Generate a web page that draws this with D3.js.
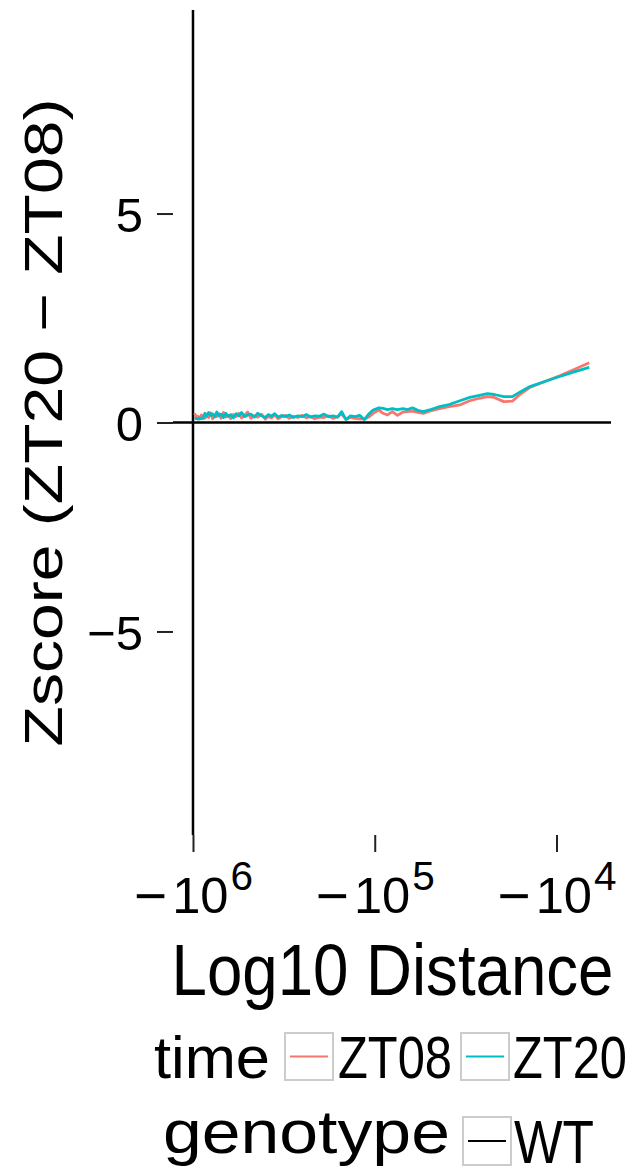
<!DOCTYPE html>
<html>
<head>
<meta charset="utf-8">
<script src="https://cdn.jsdelivr.net/npm/d3@7"></script>
<style>
  html, body { margin: 0; padding: 0; background: #ffffff; }
  svg { display: block; font-family: "Liberation Sans", Arial, Helvetica, sans-serif; }
</style>
</head>
<body>
<svg id="chart" width="634" height="1175"></svg>
<script>
// ---------------- data ----------------
// distance in bp (negative = upstream), shown on a log axis
const distances = [
  -980000, -960000, -940000, -920000, -900000, -880000, -860000, -840000, -820000, -800000,
  -780000, -760000, -740000, -720000, -700000, -680000, -660000, -640000, -620000, -600000,
  -580000, -560000, -540000, -520000, -500000, -480000, -460000, -440000, -420000, -400000,
  -385000, -370000, -355000, -340000, -325000, -310000, -295000, -280000, -265000, -250000,
  -238000, -226000, -214000, -202000, -190000, -180000, -170000, -160000, -152000, -144000,
  -136000, -128000, -121000, -114000, -108000, -102000,
  -95000, -90000, -85000, -80000, -75000, -70000, -66000, -62000, -58000, -54000,
  -50000, -44000, -39000, -34000, -30000, -26500, -24000, -22000, -19500, -17500,
  -16000, -14000, -11600, -9600, -8000, -6600
];
const zt08 = [
  0.22, 0.12, 0.15, 0.08, 0.18, 0.14, 0.10, 0.20, 0.12, 0.23,
  0.09, 0.18, 0.14, 0.21, 0.10, 0.24, 0.13, 0.17, 0.09, 0.19,
  0.14, 0.22, 0.11, 0.17, 0.25, 0.10, 0.16, 0.13, 0.20, 0.08,
  0.15, 0.11, 0.18, 0.09, 0.14, 0.17, 0.10, 0.15, 0.12, 0.17,
  0.11, 0.15, 0.09, 0.13, 0.12, 0.16, 0.10, 0.14, 0.20, 0.08,
  0.12, 0.10, 0.09, 0.08, 0.13, 0.22,
  0.30, 0.22, 0.18, 0.26, 0.17, 0.25, 0.26, 0.27, 0.24, 0.22,
  0.27, 0.33, 0.38, 0.42, 0.52, 0.58, 0.62, 0.60, 0.50, 0.51,
  0.66, 0.84, 0.98, 1.12, 1.27, 1.43
];
const zt20 = [
  0.09, 0.10, 0.08, 0.11, 0.09, 0.10, 0.22, 0.15, 0.24, 0.17,
  0.21, 0.13, 0.25, 0.16, 0.20, 0.12, 0.22, 0.15, 0.19, 0.11,
  0.21, 0.16, 0.24, 0.14, 0.18, 0.20, 0.13, 0.22, 0.16, 0.12,
  0.19, 0.15, 0.21, 0.13, 0.17, 0.14, 0.18, 0.12, 0.16, 0.14,
  0.19, 0.13, 0.16, 0.15, 0.20, 0.14, 0.16, 0.13, 0.26, 0.07,
  0.16, 0.14, 0.17, 0.07, 0.20, 0.30,
  0.35, 0.34, 0.31, 0.33, 0.31, 0.33, 0.31, 0.35, 0.29, 0.26,
  0.30, 0.38, 0.43, 0.52, 0.60, 0.65, 0.69, 0.67, 0.62, 0.62,
  0.72, 0.86, 0.98, 1.10, 1.21, 1.32
];
const timeLevels = ["ZT08", "ZT20"];
const timeColors = ["#F8766D", "#00BFC4"];
const genotypeLevels = ["WT"];
const genotypeColors = ["#000000"];
const xTickValues = [-1e6, -1e5, -1e4];
const xTickExponents = ["6", "5", "4"];
const yTickValues = [-5, 0, 5];
const yTitle = "Zscore (ZT20 \u2212 ZT08)";
const xTitle = "Log10 Distance";

// ---------------- helpers ----------------
// squeeze/stretch a text horizontally (in its own frame) to a target advance width
function fitWidth(textSel, target, pre) {
  const w = textSel.node().getComputedTextLength();
  const s = target / w;
  textSel.attr("transform", (pre || "") + ` scale(${s},1)`);
}

// ---------------- layout ----------------
const panel = { left: 173, right: 611, top: 10, bottom: 835 };
const svg = d3.select("#chart");

const x = d3.scaleLog()
  .domain([-Math.pow(10, 6.11), -Math.pow(10, 3.70)])
  .range([panel.left, panel.right]);
const y = d3.scaleLinear()
  .domain([-9.87, 9.87])
  .range([panel.bottom, panel.top]);

// zero reference line
svg.append("line")
  .attr("x1", panel.left).attr("x2", panel.right)
  .attr("y1", y(0)).attr("y2", y(0))
  .attr("stroke", "#000").attr("stroke-width", 2.5);

// vertical line at -10^6
svg.append("line")
  .attr("x1", x(-1e6)).attr("x2", x(-1e6))
  .attr("y1", panel.top).attr("y2", panel.bottom)
  .attr("stroke", "#000").attr("stroke-width", 2.5);

// series
const series = [zt08, zt20];
const line = d3.line()
  .x(d => x(d[0]))
  .y(d => y(d[1]));
series.forEach((vals, i) => {
  const pts = distances.map((d, j) => [d, vals[j]]);
  svg.append("path")
    .datum(pts)
    .attr("fill", "none")
    .attr("stroke", timeColors[i])
    .attr("stroke-width", 2.8)
    .attr("stroke-linejoin", "round")
    .attr("d", line);
});

// y axis (ticks + labels, no domain line)
const yAxis = svg.append("g")
  .attr("transform", `translate(${panel.left},0)`)
  .call(d3.axisLeft(y).tickValues(yTickValues).tickSize(16).tickPadding(14));
yAxis.select(".domain").remove();
yAxis.selectAll(".tick line").attr("stroke", "#222").attr("stroke-width", 2);
yAxis.selectAll(".tick text")
  .attr("fill", "#000")
  .style("font-size", "49px")
  .style("font-family", "'Liberation Sans', Arial, sans-serif")
  .attr("dy", "0.36em");

// x axis (ticks + superscript labels)
const xAxis = svg.append("g")
  .attr("transform", `translate(0,${panel.bottom})`)
  .call(d3.axisBottom(x).tickValues(xTickValues).tickSize(17).tickFormat(() => ""));
xAxis.select(".domain").remove();
xAxis.selectAll(".tick line").attr("stroke", "#222").attr("stroke-width", 2);
xAxis.selectAll(".tick").each(function(d, i) {
  const g = d3.select(this);
  const t = g.select("text")
    .attr("y", 78).attr("dy", null)
    .attr("text-anchor", "middle")
    .attr("fill", "#000")
    .style("font-family", "'Liberation Sans', Arial, sans-serif")
    .style("font-size", "50px");
  t.text(null);
  t.append("tspan").style("font-size", "56px").attr("dy", 2).text("\u2212");
  t.append("tspan").attr("dx", 5).attr("dy", -2).text("10");
  t.append("tspan").style("font-size", "40px").attr("dx", 2).attr("dy", -23).text(xTickExponents[i]);
  fitWidth(t, 112);
});

// axis titles
const xt = svg.append("text")
  .attr("x", 0).attr("y", 0)
  .attr("text-anchor", "middle")
  .style("font-size", "72px")
  .attr("fill", "#000")
  .text(xTitle);
fitWidth(xt, 442, `translate(${(panel.left + 612) / 2},995)`);

const yt = svg.append("text")
  .attr("x", 0).attr("y", 0)
  .attr("text-anchor", "middle")
  .style("font-size", "54px")
  .attr("fill", "#000")
  .text(yTitle);
fitWidth(yt, 648, `translate(62,${y(0)}) rotate(-90)`);

// ---------------- legend ----------------
const legend = svg.append("g").attr("fill", "#000");
const timeTitle = legend.append("text")
  .attr("x", 0).attr("y", 0)
  .style("font-size", "60px")
  .text("time");
fitWidth(timeTitle, 116, "translate(154,1078)");

const timeKeyX = [285, 461];
const timeLabX = [338, 513];
timeLevels.forEach((lv, i) => {
  legend.append("rect")
    .attr("x", timeKeyX[i]).attr("y", 1033)
    .attr("width", 48).attr("height", 47)
    .attr("fill", "#fff").attr("stroke", "#cccccc").attr("stroke-width", 2);
  legend.append("line")
    .attr("x1", timeKeyX[i] + 5).attr("x2", timeKeyX[i] + 43)
    .attr("y1", 1056.5).attr("y2", 1056.5)
    .attr("stroke", timeColors[i]).attr("stroke-width", 2);
  const lt = legend.append("text")
    .attr("x", 0).attr("y", 0)
    .style("font-size", "60px")
    .text(lv);
  fitWidth(lt, 114, `translate(${timeLabX[i]},1078)`);
});

const genoTitle = legend.append("text")
  .attr("x", 0).attr("y", 0)
  .style("font-size", "62px")
  .text("genotype");
fitWidth(genoTitle, 287, "translate(163,1153)");

genotypeLevels.forEach((lv, i) => {
  legend.append("rect")
    .attr("x", 463).attr("y", 1117)
    .attr("width", 48).attr("height", 48)
    .attr("fill", "#fff").attr("stroke", "#cccccc").attr("stroke-width", 2);
  legend.append("line")
    .attr("x1", 468).attr("x2", 506)
    .attr("y1", 1141).attr("y2", 1141)
    .attr("stroke", genotypeColors[i]).attr("stroke-width", 2);
  const gt = legend.append("text")
    .attr("x", 0).attr("y", 0)
    .style("font-size", "62px")
    .text(lv);
  fitWidth(gt, 80, "translate(514,1163)");
});
</script>
</body>
</html>
